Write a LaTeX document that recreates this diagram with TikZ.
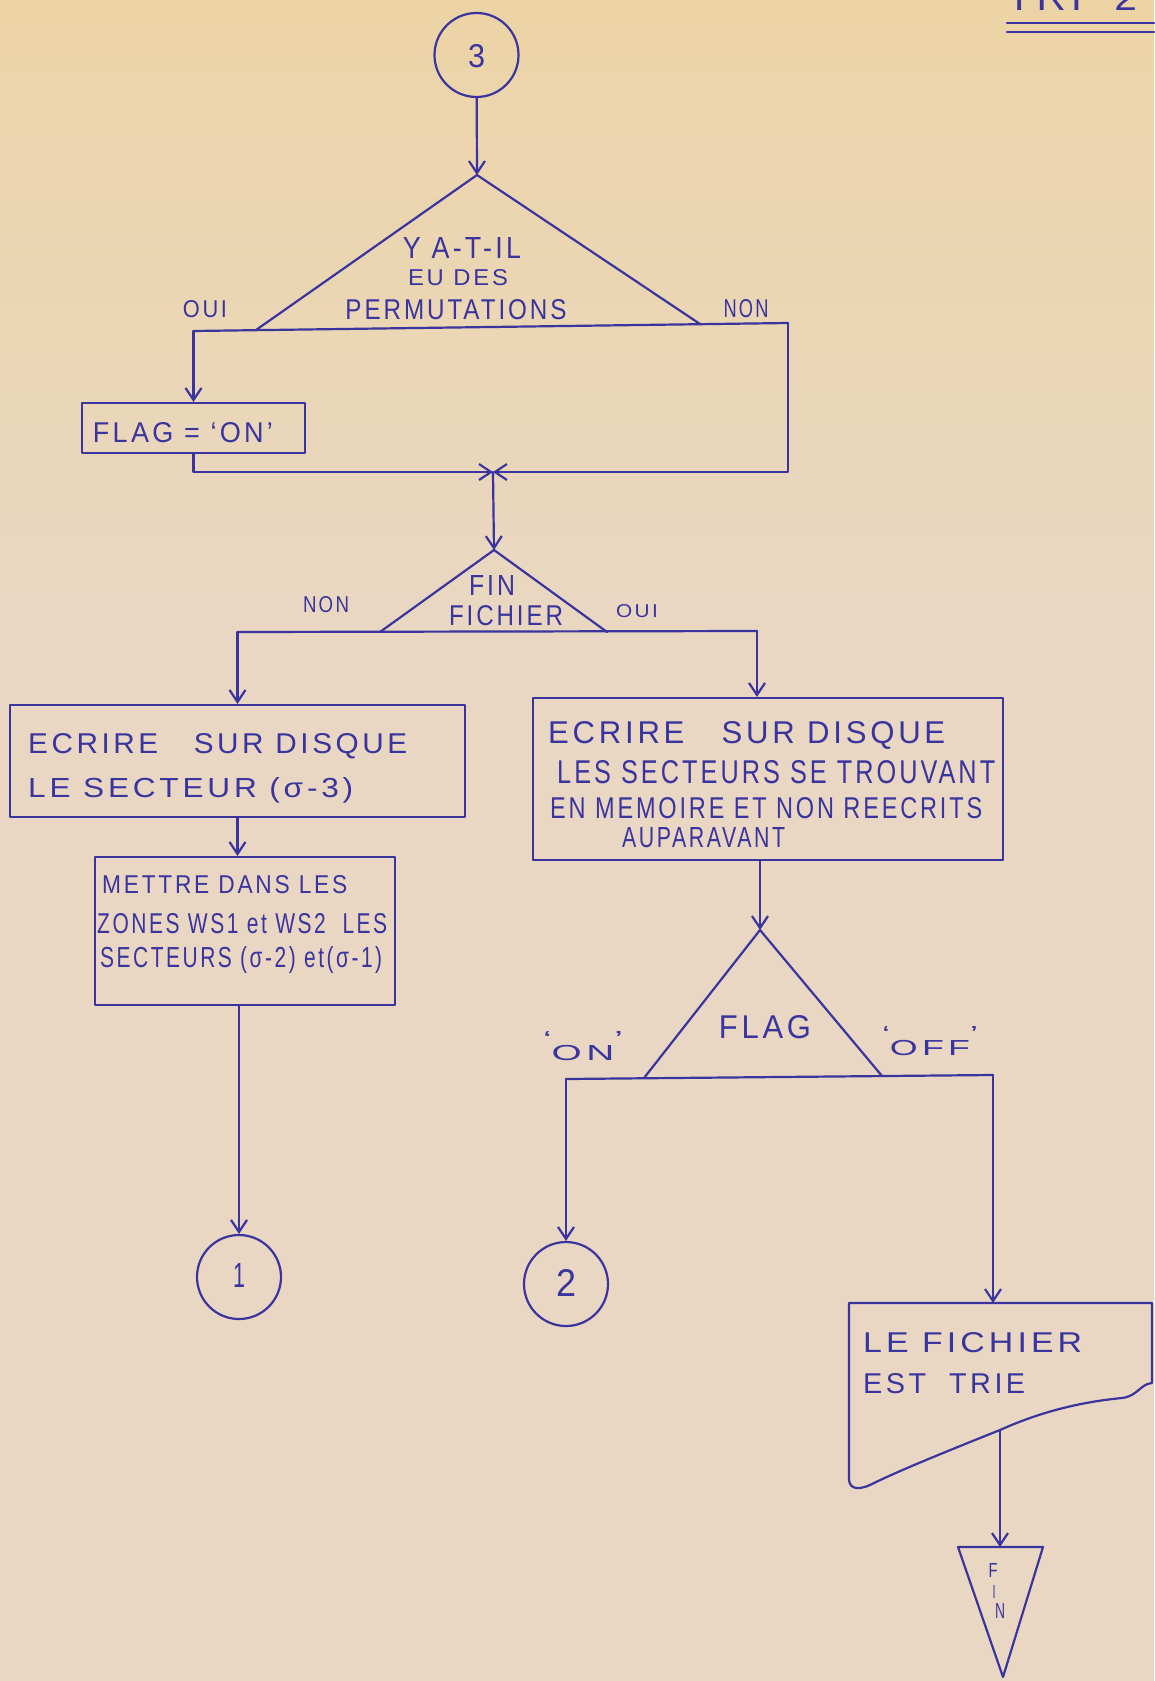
\documentclass[tikz,border=0pt]{standalone}
\usepackage{fontspec}
\usepackage{graphicx}
\usetikzlibrary{arrows.meta}
\newfontfamily\hand[LetterSpace=12]{Liberation Sans}
\newfontfamily\handp{Liberation Sans}
\newcommand\hw[3]{\resizebox{#1pt}{#2pt}{\hand #3}}
\newcommand\hx[3]{\resizebox{#1pt}{#2pt}{\handp #3}}
\newcommand\upq[1]{\raisebox{0.6em}{#1}}
\definecolor{ink}{RGB}{58,52,158}
\definecolor{ptop}{RGB}{238,205,135}
\definecolor{pmid}{RGB}{236,213,172}
\definecolor{pbot}{RGB}{233,215,196}
\pgfdeclareverticalshading{paper}{100bp}{color(0bp)=(pbot); color(55bp)=(pbot); color(72bp)=(pmid); color(86bp)=(ptop); color(100bp)=(ptop)}
\begin{document}
\begin{tikzpicture}[x=1pt,y=-1pt,
  inkline/.style={draw=ink,line width=2.2pt,line join=round,line cap=round},
  arr/.style={inkline,-{Straight Barb[length=12pt,width=16pt]}},
  boxst/.style={inkline,rectangle,inner sep=0pt},
  conn/.style={inkline,circle,inner sep=0pt,minimum size=84pt},
  lbl/.style={inner sep=0pt,text=ink}]
\shade[shading=paper] (0,0) rectangle (1154,1681);
\useasboundingbox (0,0) rectangle (1154,1681);

% header
\node[lbl,anchor=base] (hdr) at (1072,10) {\hw{130}{25}{TRI\ \ 2}};
\coordinate (u1a) at (1007,23); \coordinate (u1b) at (1154,23);
\coordinate (u2a) at (1007,32); \coordinate (u2b) at (1154,32);
\draw[inkline] (u1a) -- (u1b);
\draw[inkline] (u2a) -- (u2b);

% connector 3
\node[conn] (c3) at (476.5,55) {};
\node[lbl,anchor=base] (t3) at (476.5,67) {\hx{17}{23}{3}};

% decision 1
\coordinate (A1) at (477,175);
\coordinate (L1) at (256,330);
\coordinate (R1) at (700,324);
\coordinate (bl1) at (193.5,331);
\coordinate (br1) at (788,323);
\draw[arr] (c3) -- (A1);
\draw[inkline] (L1) -- (A1) -- (R1);
\draw[inkline] (bl1) -- (br1);
\node[lbl,anchor=base] (ty) at (462,258) {\hw{118}{21}{Y A-T-IL}};
\node[lbl,anchor=base] (teu) at (458,285) {\hw{100}{16}{EU DES}};
\node[lbl,anchor=base] (tperm) at (456,319) {\hw{221}{20}{PERMUTATIONS}};
\node[lbl,anchor=base] (toui1) at (205,317) {\hw{44}{17}{OUI}};
\node[lbl,anchor=base] (tnon1) at (746,317) {\hw{45}{18}{NON}};

% flag box
\node[boxst,minimum width=223pt,minimum height=50pt] (fb) at (193.5,428) {};
\node[lbl,anchor=base] (tflag) at (183,442) {\hw{180}{20}{FLAG = ‘ON’}};
\draw[arr] (bl1) -- (fb.north);
\coordinate (jn) at (493,472);
\draw[arr] (fb.south) |- (jn);
\draw[arr] (br1) |- (jn);

% decision 2
\coordinate (A2) at (494,550);
\coordinate (L2) at (380,632);
\coordinate (R2) at (607,632);
\coordinate (bl2) at (237.5,632);
\coordinate (br2) at (757,631);
\draw[arr] (jn) -- (A2);
\draw[inkline] (L2) -- (A2) -- (R2);
\draw[inkline] (bl2) -- (br2);
\node[lbl,anchor=base] (tfin) at (492,595) {\hw{46}{20}{FIN}};
\node[lbl,anchor=base] (tfich) at (506,625) {\hw{114}{20}{FICHIER}};
\node[lbl,anchor=base] (tnon2) at (326,612) {\hw{46}{16}{NON}};
\node[lbl,anchor=base] (toui2) at (637,617) {\hw{42}{13}{OUI}};

% box 1
\node[boxst,minimum width=455pt,minimum height=112pt] (b1) at (237.5,761) {};
\node[lbl,anchor=base west] (b1a) at (28,753) {\hw{379}{20}{ECRIRE\ \ \ SUR DISQUE}};
\node[lbl,anchor=base west] (b1b) at (28,797) {\hw{325}{20}{LE SECTEUR (σ-3)}};
\draw[arr] (bl2) -- (b1.north);

% box 3
\node[boxst,minimum width=300pt,minimum height=148pt] (b3) at (245,931) {};
\node[lbl,anchor=base west] (b3a) at (102,893) {\hw{245}{18}{METTRE DANS LES}};
\node[lbl,anchor=base west] (b3b) at (97,933) {\hw{290}{20}{ZONES WS1 et WS2\ \ LES}};
\node[lbl,anchor=base west] (b3c) at (100,967) {\hw{282}{21}{SECTEURS (σ-2) et(σ-1)}};
\draw[arr] (b1.south) -- (b1.south |- b3.north);

% connector 1
\node[conn] (c1) at (239,1277) {};
\node[lbl,anchor=base] (t1) at (239,1287) {\hx{12}{24}{1}};
\draw[arr] (c1.north |- b3.south) -- (c1.north);

% box 2
\node[boxst,minimum width=470pt,minimum height=162pt] (b2) at (768,779) {};
\node[lbl,anchor=base west] (b2a) at (548,743) {\hw{397}{22}{ECRIRE\ \ \ SUR DISQUE}};
\node[lbl,anchor=base west] (b2b) at (557,783) {\hw{438}{23}{LES SECTEURS SE TROUVANT}};
\node[lbl,anchor=base west] (b2c) at (550,818) {\hw{432}{21}{EN MEMOIRE ET NON REECRITS}};
\node[lbl,anchor=base west] (b2d) at (622,847) {\hw{163}{20}{AUPARAVANT}};
\draw[arr] (br2) -- (br2 |- b2.north);

% decision 3
\coordinate (A3) at (760,930);
\coordinate (L3) at (644,1078);
\coordinate (R3) at (882,1076);
\coordinate (bl3) at (566,1079);
\coordinate (br3) at (993,1075);
\draw[arr] (A3 |- b2.south) -- (A3);
\draw[inkline] (L3) -- (A3) -- (R3);
\draw[inkline] (bl3) -- (br3);
\node[lbl,anchor=base] (tflag3) at (765,1038) {\hw{92}{23}{FLAG}};
\node[lbl,anchor=base] (ton) at (583,1060) {\hw{80}{28}{\upq{‘}ON\upq{’}}};
\node[lbl,anchor=base] (toff) at (930,1055) {\hw{96}{28}{\upq{‘}OFF\upq{’}}};

% connector 2
\node[conn] (c2) at (566,1284) {};
\node[lbl,anchor=base] (t2) at (566,1296) {\hx{20}{27}{2}};
\draw[arr] (bl3) -- (c2.north);

% document
\coordinate (docin) at (993,1303);
\draw[arr] (br3) -- (docin);
\draw[inkline] (849,1303) -- (1152,1303) -- (1152,1383)
  .. controls (1140,1384) and (1138,1396) .. (1122,1398)
  .. controls (1080,1402) and (1040,1412) .. (1000,1430)
  .. controls (960,1446) and (900,1470) .. (872,1484)
  .. controls (860,1490) and (850,1490) .. (849,1480) -- cycle;
\node[lbl,anchor=base west] (td1) at (863,1352) {\hw{219}{20}{LE FICHIER}};
\node[lbl,anchor=base west] (td2) at (863,1393) {\hw{162}{20}{EST\ \ TRIE}};

% end
\coordinate (docout) at (1000,1430);
\coordinate (fintop) at (1000,1547);
\coordinate (f1) at (958,1547);
\coordinate (f2) at (1043,1547);
\coordinate (f3) at (1003,1677);
\draw[arr] (docout) -- (fintop);
\draw[inkline] (f1) -- (f2) -- (f3) -- cycle;
\node[lbl,anchor=base] (tf) at (993,1577) {\hx{9}{14}{F}};
\node[lbl,anchor=base] (ti) at (994,1598) {\hx{3}{13}{I}};
\node[lbl,anchor=base] (tn) at (1000,1618) {\hx{10}{15}{N}};
\end{tikzpicture}
\end{document}
